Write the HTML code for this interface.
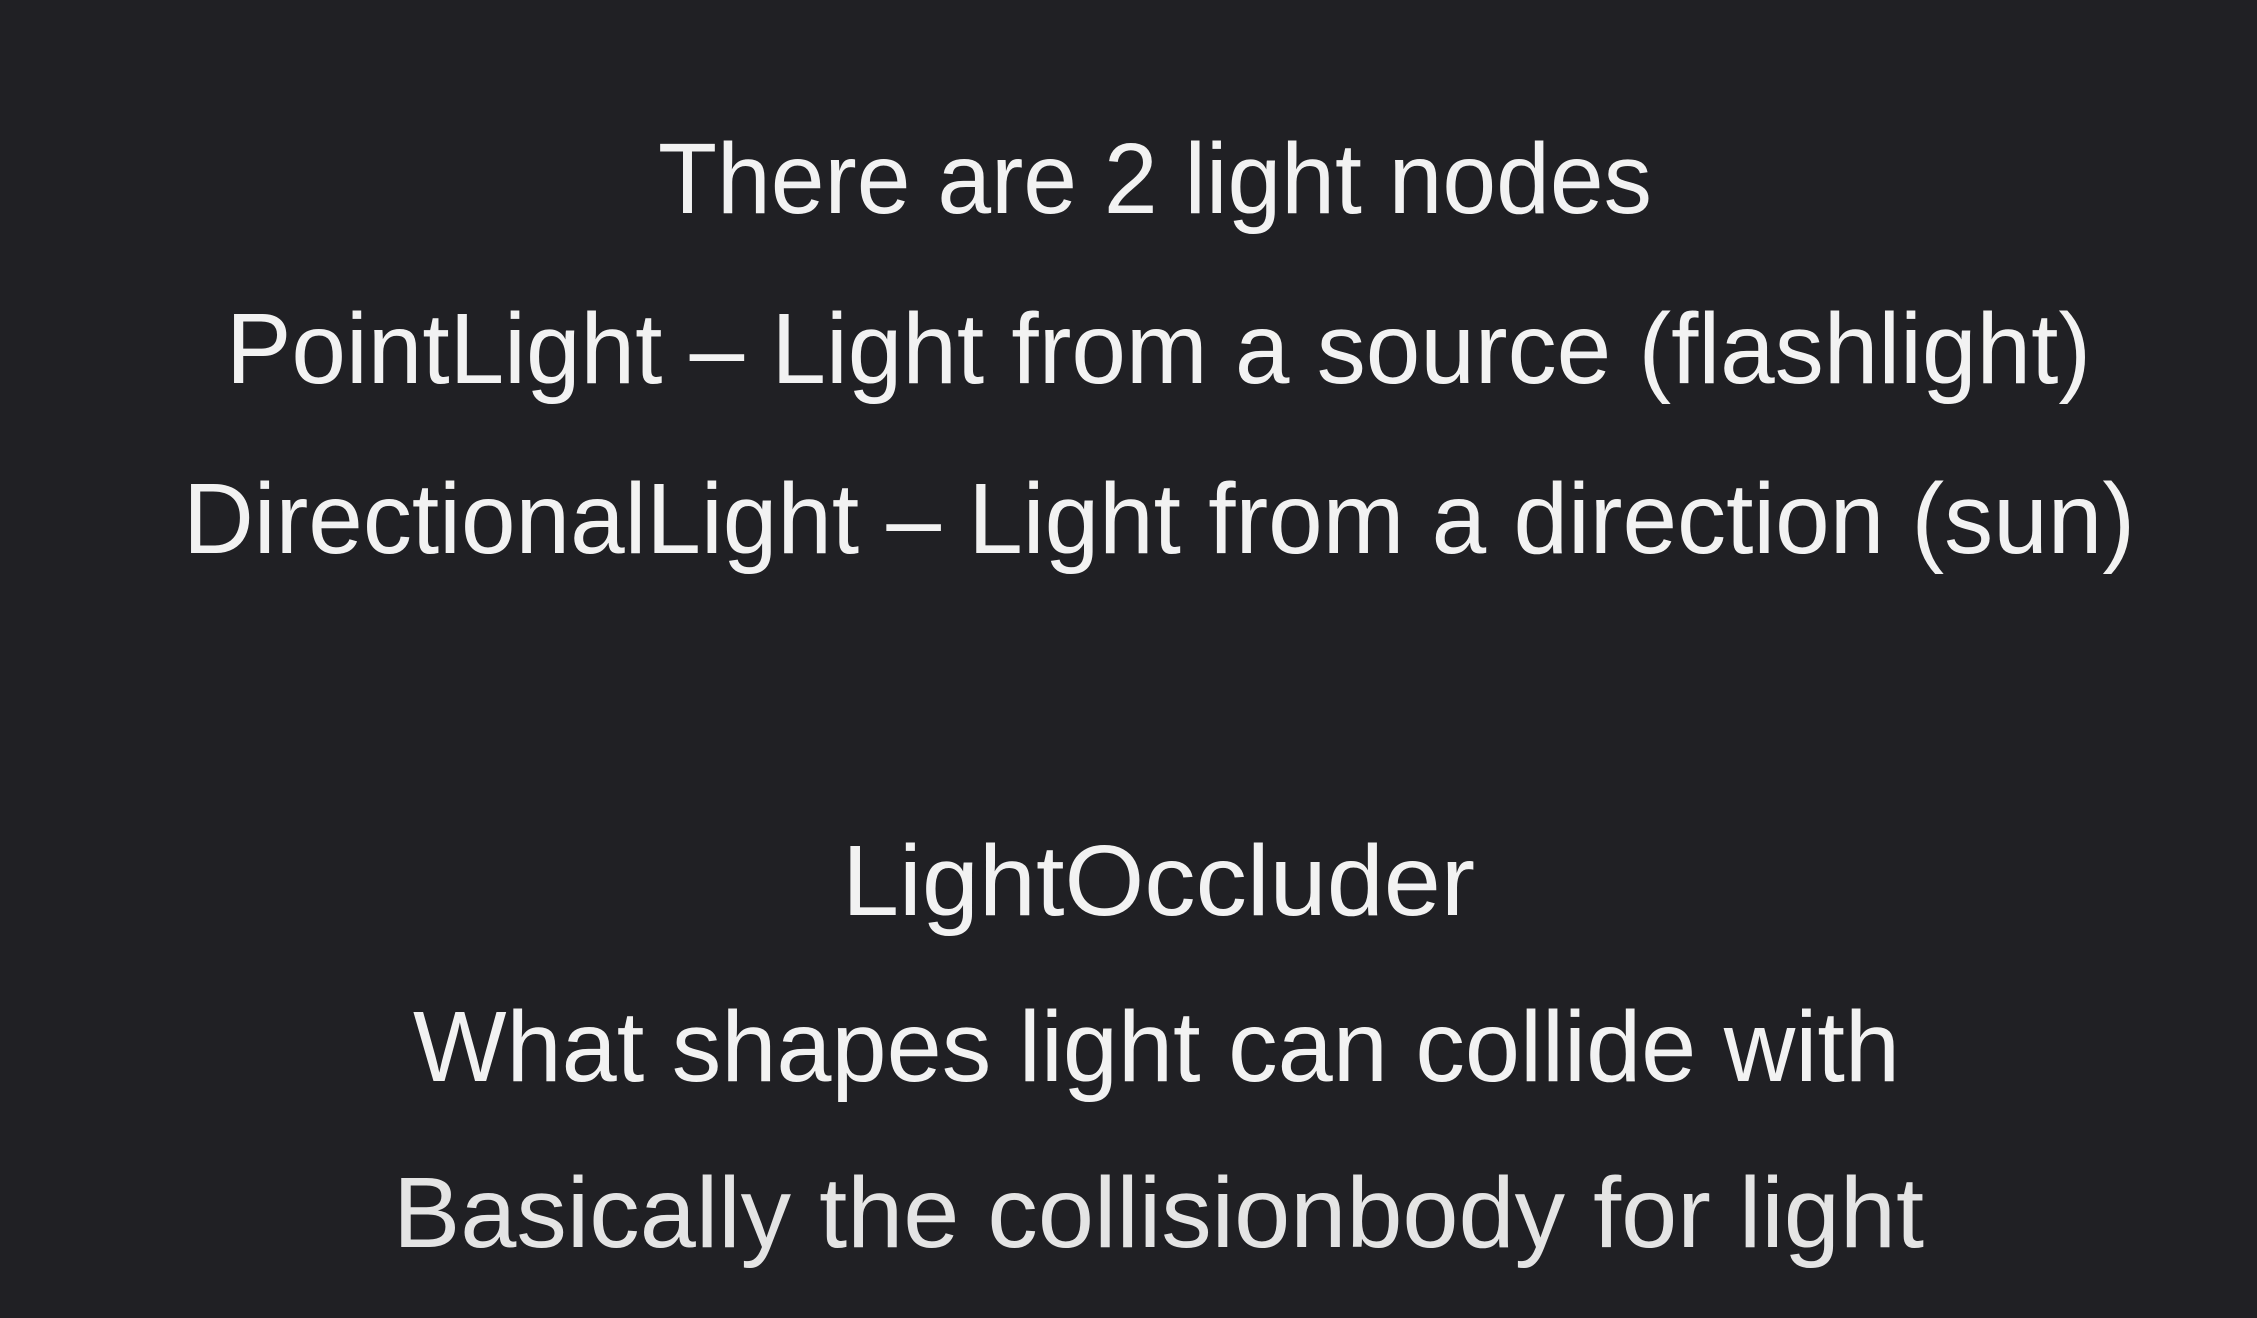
<!DOCTYPE html>
<html>
<head>
<meta charset="utf-8">
<style>
  html, body { margin: 0; padding: 0; background: #202024; }
  svg { display: block; }
  text { font-family: "Liberation Sans", "DejaVu Sans", sans-serif; font-size: 100px; fill: #f2f2f2; }
</style>
</head>
<body>
<svg width="2257" height="1318" viewBox="0 0 2257 1318">
  <rect width="2257" height="1318" fill="#202024"/>
  <text x="658" y="213" textLength="994" lengthAdjust="spacingAndGlyphs">There are 2 light nodes</text>
  <text x="226" y="383" textLength="1865" lengthAdjust="spacingAndGlyphs">PointLight – Light from a source (flashlight)</text>
  <text x="183" y="553" textLength="1952" lengthAdjust="spacingAndGlyphs">DirectionalLight – Light from a direction (sun)</text>
  <text x="842" y="915" textLength="633" lengthAdjust="spacingAndGlyphs">LightOccluder</text>
  <text x="413" y="1081" textLength="1487" lengthAdjust="spacingAndGlyphs">What shapes light can collide with</text>
  <text x="393" y="1247" textLength="1531" lengthAdjust="spacingAndGlyphs" fill="#e4e4e4" style="fill:#e4e4e4">Basically the collisionbody for light</text>
</svg>
</body>
</html>
